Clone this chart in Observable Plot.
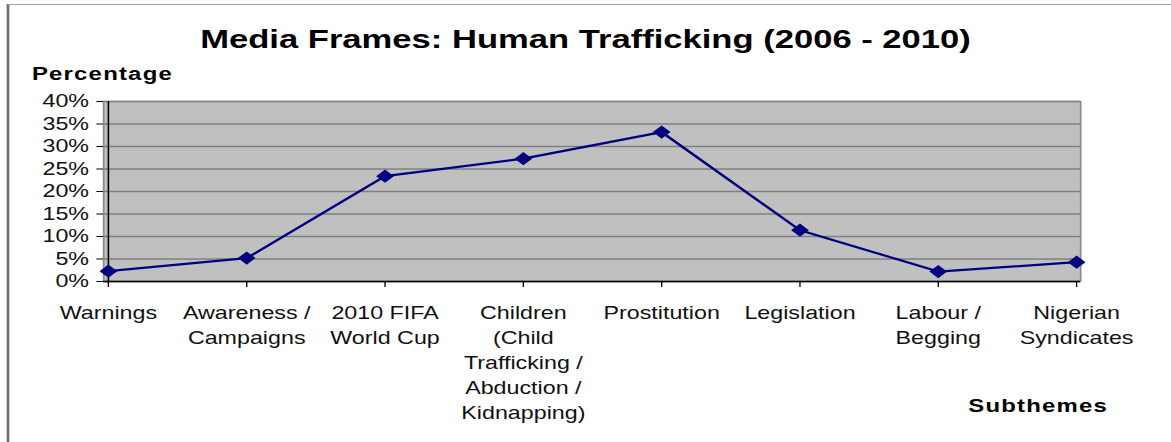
<!DOCTYPE html>
<html>
<head>
<meta charset="utf-8">
<script src="https://cdn.jsdelivr.net/npm/d3@7"></script>
<script src="https://cdn.jsdelivr.net/npm/@observablehq/plot@0.6"></script>
<style>
  html, body { margin: 0; padding: 0; background: #fff; overflow: hidden; }
  #wrap { position: relative; height: 442px; transform-origin: 0 0; font-family: "Liberation Sans", Arial, sans-serif; }
  #frame { position: absolute; left: 5px; top: 4px; right: -10px; bottom: -10px; border-left: 2px solid #6e6e6e; border-top: 1.5px solid #a6a6a6; }
  .t { position: absolute; line-height: 1; white-space: nowrap; color: #000; font-weight: bold; }
  #title { top: 26px; left: 0; width: 100%; text-align: center; font-size: 26px; }
  #ylab { top: 65px; left: 24px; font-size: 18px; letter-spacing: 0.9px; }
  #xlab { top: 397px; left: 728px; font-size: 18px; letter-spacing: 0.9px; }
  #chart { position: absolute; left: 0; top: 0; }
</style>
</head>
<body>
<div id="wrap">
  <div id="frame"></div>
  <div id="chart"></div>
  <div class="t" id="title">Media Frames: Human Trafficking (2006 - 2010)</div>
  <div class="t" id="ylab">Percentage</div>
  <div class="t" id="xlab">Subthemes</div>
</div>
<script>
// Data
const categories = [
  "Warnings",
  "Awareness /\nCampaigns",
  "2010 FIFA\nWorld Cup",
  "Children\n(Child\nTrafficking /\nAbduction /\nKidnapping)",
  "Prostitution",
  "Legislation",
  "Labour /\nBegging",
  "Nigerian\nSyndicates"
];
const values = [0.023, 0.052, 0.234, 0.273, 0.332, 0.114, 0.022, 0.043];
const yTicks = [0, 0.05, 0.10, 0.15, 0.20, 0.25, 0.30, 0.35, 0.40];

const S = 1.33; // horizontal stretch of the reference rendering
const W = 1171 / S;
const wrap = document.getElementById("wrap");
wrap.style.width = W + "px";
wrap.style.transform = `scaleX(${S})`;

const data = categories.map((c, i) => ({category: c, value: values[i]}));

const chart = Plot.plot({
  width: W,
  height: 442,
  marginLeft: 103 / S,
  marginRight: 1171 / S - 1080 / S,
  marginTop: 101,
  marginBottom: 161,
  style: {fontSize: "17.5px", fontFamily: "'Liberation Sans', Arial, sans-serif", color: "#111", background: "transparent", overflow: "visible"},
  x: {type: "point", domain: categories, padding: 0, label: null},
  y: {domain: [0, 0.4], label: null},
  marks: [
    Plot.frame({fill: "#c0c0c0", stroke: "#8a8a8a", strokeWidth: 1.3}),
    Plot.gridY(yTicks, {stroke: "#808080", strokeOpacity: 1, strokeWidth: 1.3}),
    Plot.axisY({ticks: yTicks, tickFormat: d3.format(".0%"), tickSize: 5, tickPadding: 6, label: null, stroke: "#000"}),
    Plot.axisX({tickSize: 6, tickPadding: 14, label: null, lineHeight: 1.43, stroke: "#000"}),
    Plot.ruleX([categories[0]], {stroke: "#000", strokeWidth: 1.2}),
    Plot.ruleY([0], {stroke: "#000", strokeWidth: 1.6}),
    Plot.line(data, {x: "category", y: "value", stroke: "#000080", strokeWidth: 2.2}),
    Plot.dot(data, {x: "category", y: "value", symbol: "diamond2", r: 6, fill: "#000080", stroke: "none"})
  ]
});
document.getElementById("chart").appendChild(chart);
</script>
</body>
</html>
